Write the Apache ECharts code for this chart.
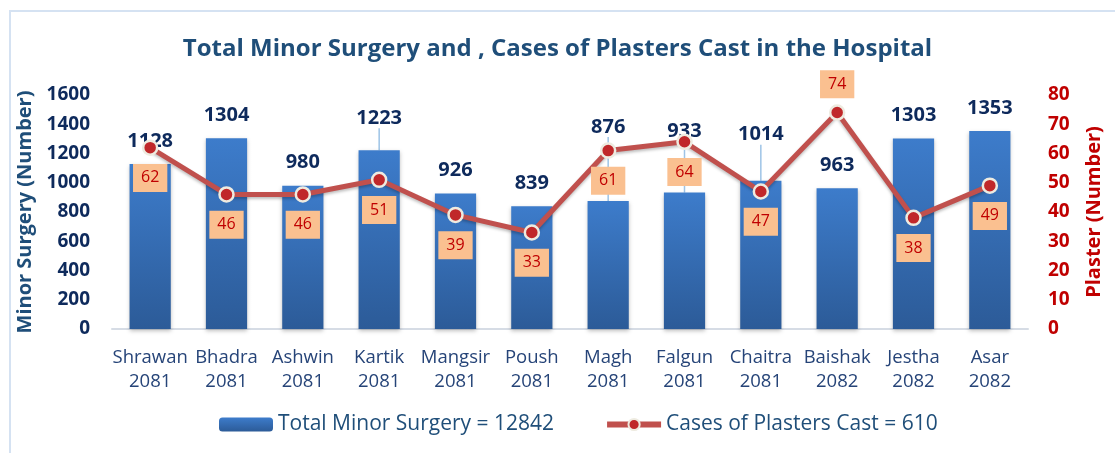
<!DOCTYPE html>
<html>
<head>
<meta charset="utf-8">
<script src="https://cdn.jsdelivr.net/npm/echarts@6/dist/echarts.min.js"></script>
<style>
  html, body { margin: 0; padding: 0; background: #fff; }
  #chart { width: 1115px; height: 453px; }
</style>
</head>
<body>
<div id="chart"></div>
<script>
var months = ['Shrawan\n2081', 'Bhadra\n2081', 'Ashwin\n2081', 'Kartik\n2081', 'Mangsir\n2081', 'Poush\n2081',
    'Magh\n2081', 'Falgun\n2081', 'Chaitra\n2081', 'Baishak\n2082', 'Jestha\n2082', 'Asar\n2082'];
var surgery = [1128, 1304, 980, 1223, 926, 839, 876, 933, 1014, 963, 1303, 1353];
var plaster = [62, 46, 46, 51, 39, 33, 61, 64, 47, 74, 38, 49];

// labels that were dragged upward in the original, with a leader line
var barLabelShift = { 3: -9, 6: -51, 7: -38, 8: -23 };

function sum(arr) {
    return arr.reduce(function (a, b) { return a + b; }, 0);
}

var surgeryName = 'Total Minor Surgery = ' + sum(surgery);
var plasterName = 'Cases of Plasters Cast = ' + sum(plaster);

var font = '"Open Sans", sans-serif';

var chart = echarts.init(document.getElementById('chart'));

var barData = surgery.map(function (v, i) {
    var item = { value: v };
    if (barLabelShift[i] != null) {
        item.labelLine = { show: true };
    }
    return item;
});

var lineData = plaster.map(function (v, i) {
    var item = { value: v };
    if (i == 9) {
        item.label = { position: 'top', distance: 6 };
    }
    return item;
});

var option = {
    backgroundColor: '#fff',
    textStyle: { fontFamily: font },
    graphic: [{
        type: 'rect',
        shape: { x: 10, y: 11, width: 1200, height: 600 },
        style: { fill: 'none', stroke: '#D5E2F2', lineWidth: 2 },
        z: -1
    }],
    title: {
        text: 'Total Minor Surgery and , Cases of Plasters Cast in the Hospital',
        left: 'center',
        top: 32,
        textStyle: { fontFamily: font, fontSize: 24, fontWeight: 'bold', color: '#1F4E79' }
    },
    legend: {
        bottom: 13,
        left: 214,
        itemGap: 50,
        itemWidth: 54,
        itemHeight: 14,
        textStyle: { fontFamily: font, fontSize: 21, color: '#1F4E79' },
        data: [
            { name: surgeryName },
            { name: plasterName, lineStyle: { width: 6 } }
        ]
    },
    grid: { left: 112, right: 87, top: 95, bottom: 124 },
    xAxis: {
        type: 'category',
        data: months,
        axisLine: { lineStyle: { color: '#D6DCE5', width: 2 } },
        axisTick: { show: false },
        axisLabel: { fontFamily: font, fontSize: 18.5, color: '#264478', lineHeight: 24, margin: 17, interval: 0 }
    },
    yAxis: [{
        type: 'value',
        min: 0,
        max: 1600,
        interval: 200,
        name: 'Minor Surgery (Number)',
        nameLocation: 'middle',
        nameGap: 68,
        nameTextStyle: { fontFamily: font, fontSize: 20, fontWeight: 'bold', color: '#1F4E79' },
        splitLine: { show: false },
        axisLine: { show: false },
        axisTick: { show: false },
        axisLabel: {
            fontFamily: font, fontSize: 19, fontWeight: 'bold', color: '#0E2A5C', margin: 22,
            formatter: function (v) { return String(v); }
        }
    }, {
        type: 'value',
        min: 0,
        max: 80,
        interval: 10,
        name: 'Plaster (Number)',
        nameLocation: 'middle',
        nameGap: 56,
        nameTextStyle: { fontFamily: font, fontSize: 20, fontWeight: 'bold', color: '#C00000' },
        splitLine: { show: false },
        axisLine: { show: false },
        axisTick: { show: false },
        axisLabel: { fontFamily: font, fontSize: 19, fontWeight: 'bold', color: '#C00000', margin: 20 }
    }],
    series: [{
        name: surgeryName,
        type: 'bar',
        barWidth: '54%',
        data: barData,
        itemStyle: {
            color: new echarts.graphic.LinearGradient(0, 0, 0, 1, [
                { offset: 0, color: '#3D7CCB' },
                { offset: 1, color: '#2C5B98' }
            ]),
            shadowColor: 'rgba(0,0,0,0.25)',
            shadowBlur: 4,
            shadowOffsetY: 2
        },
        label: {
            show: true,
            position: 'top',
            distance: 13,
            fontFamily: font,
            fontSize: 20,
            fontWeight: 'bold',
            color: '#0E2A5C'
        },
        labelLine: {
            show: false,
            lineStyle: { color: '#9DC3E6', width: 1.5 }
        },
        labelLayout: function (params) {
            var dy = barLabelShift[params.dataIndex];
            return dy != null ? { dy: dy } : {};
        }
    }, {
        name: plasterName,
        type: 'line',
        yAxisIndex: 1,
        data: lineData,
        z: 5,
        symbol: 'circle',
        symbolSize: 14,
        lineStyle: {
            color: '#C0504D',
            width: 5,
            shadowColor: 'rgba(0,0,0,0.25)',
            shadowBlur: 3,
            shadowOffsetY: 2
        },
        itemStyle: {
            color: '#C0282A',
            borderColor: '#EEEBE0',
            borderWidth: 2.5
        },
        label: {
            show: true,
            position: 'bottom',
            distance: 8,
            fontFamily: font,
            fontSize: 16,
            color: '#C00000',
            backgroundColor: '#FAC090',
            padding: [6, 8]
        }
    }]
};

chart.setOption(option);
</script>
</body>
</html>
